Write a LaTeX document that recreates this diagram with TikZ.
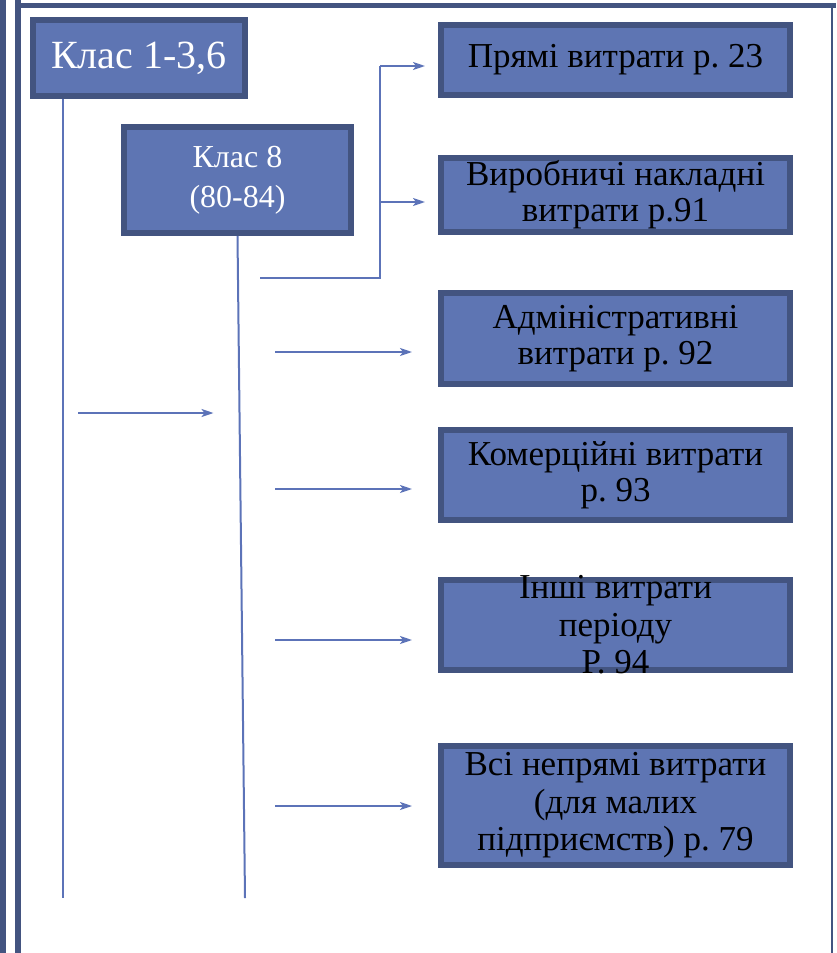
\documentclass[tikz,border=0pt]{standalone}
\usepackage{fontspec}
\setmainfont{Liberation Serif}
\usepackage{tikz}
\usetikzlibrary{arrows.meta}
\usepackage{xcolor}
\definecolor{boxfill}{RGB}{94,117,179}
\definecolor{boxedge}{RGB}{67,84,128}
\definecolor{linkblue}{RGB}{92,115,184}
\frenchspacing

\begin{document}
\begin{tikzpicture}[x=1pt, y=-1pt,
    klas/.style={draw=boxedge, fill=boxfill, line width=6pt, text=white, align=center, inner sep=0pt},
    rah/.style={draw=boxedge, fill=boxfill, line width=6pt, align=center, inner sep=0pt, minimum width=349pt, font=\fontsize{35}{36}\selectfont},
    rahtext/.style={align=center, inner sep=0pt, font=\fontsize{35}{37.5}\selectfont},
    link/.style={draw=linkblue, line width=2pt},
    arr/.style={link, -{Stealth[length=12pt,width=8pt,inset=3pt]}}]
        \useasboundingbox (0,0) rectangle (836,953);

        % Рамка слайда
        \fill[boxedge] (0,0) rectangle (6,953);
        \fill[boxedge] (15,0) rectangle (21,953);
        \fill[boxedge] (15,3) rectangle (836,8);
        \fill[boxedge] (831,3) rectangle (833,953);

        % Класи рахунків
        \node[klas, minimum width=212pt, minimum height=76pt, font=\fontsize{40}{44}\selectfont] (k1) at (139,58) {Клас 1-3,6};
        \node[klas, minimum width=227pt, minimum height=106pt, font=\fontsize{32}{40}\selectfont] (k8) at (237.5,180) {Клас 8\\(80-84)};

        % Рахунки витрат
        \node[rah, minimum height=70pt] (pryami) at (615.5,60) {Прямі витрати р. 23};
        \node[rah, minimum height=74pt] (vyrob) at (615.5,195) {Виробничі накладні\\витрати р.91};
        \node[rah, minimum height=91pt] (admin) at (615.5,338.5) {Адміністративні\\витрати р. 92};
        \node[rah, minimum height=90pt] (komerc) at (615.5,475) {Комерційні витрати\\р. 93};
        \node[rah, minimum height=90pt] (inshi) at (615.5,625) {};
        \node[rahtext] at (inshi) {Інші витрати\\періоду\\Р. 94};
        \node[rah, minimum height=119pt] (nepryami) at (615.5,805.5) {};
        \node[rahtext] at (nepryami) {Всі непрямі витрати\\(для малих\\підприємств) р. 79};

        % Вертикальні лінії
        \coordinate (k1end) at (63,898);
        \coordinate (k8end) at (245,898);
        \draw[link] (k1.south -| k1end) -- (k1end);
        \draw[link] (k8.south) -- (k8end);

        % Розгалуження до прямих і накладних
        \coordinate (br) at (260,278);
        \coordinate (fork) at (380,278);
        \coordinate (t1) at (380,66);
        \coordinate (t2) at (380,202);
        \draw[link] (br) -- (fork) -- (t1);
        \draw[arr, shorten >=13pt] (t1) -- (t1 -| pryami.west);
        \draw[arr, shorten >=13pt] (t2) -- (t2 -| vyrob.west);

        % Стрілки
        \coordinate (a0) at (78,413);
        \coordinate (a3) at (275,352);
        \coordinate (a4) at (275,489);
        \coordinate (a5) at (275,640);
        \coordinate (a6) at (275,806);
        \draw[arr, shorten >=24pt] (a0) -- (a0 -| k8.south);
        \draw[arr, shorten >=26pt] (a3) -- (a3 -| admin.west);
        \draw[arr, shorten >=26pt] (a4) -- (a4 -| komerc.west);
        \draw[arr, shorten >=26pt] (a5) -- (a5 -| inshi.west);
        \draw[arr, shorten >=26pt] (a6) -- (a6 -| nepryami.west);
    \end{tikzpicture}
\end{document}
